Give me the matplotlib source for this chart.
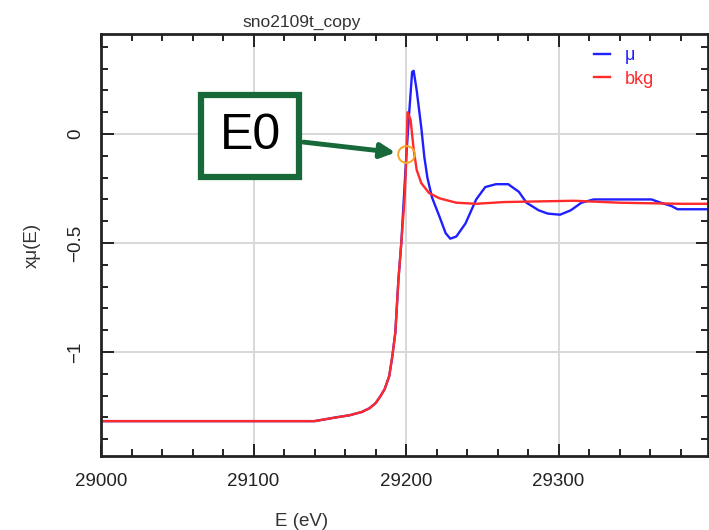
import matplotlib
matplotlib.use("Agg")
import matplotlib.pyplot as plt
from matplotlib.ticker import MultipleLocator
import numpy as np

plt.rcParams['font.family'] = ['Liberation Sans', 'DejaVu Sans']

# background (bkg) curve
bkg_energy = [29000, 29140, 29154, 29163, 29171, 29176, 29180, 29183, 29186,
              29189, 29191, 29193, 29194, 29195, 29197, 29199, 29200, 29201,
              29203, 29205, 29207, 29210, 29215, 29222, 29233, 29246, 29264,
              29310, 29340, 29380, 29398]
bkg_values = [-1.317, -1.317, -1.30, -1.29, -1.275, -1.258, -1.235, -1.205, -1.17,
              -1.11, -1.02, -0.91, -0.79, -0.67, -0.49, -0.30, -0.15, 0.10,
              0.065, -0.07, -0.165, -0.225, -0.27, -0.295, -0.315, -0.32, -0.312,
              -0.306, -0.315, -0.32, -0.32]

# mu(E) curve
mu_energy = [29000, 29140, 29154, 29163, 29171, 29176, 29180, 29183, 29186,
             29189, 29191, 29193, 29194, 29195, 29197, 29200, 29202, 29204,
             29205, 29207, 29210, 29212, 29214, 29217, 29222, 29226, 29229,
             29233, 29239, 29246, 29252, 29259, 29267, 29274, 29279, 29287,
             29293, 29301, 29308, 29315, 29323, 29361, 29367, 29374, 29378,
             29398]
mu_values = [-1.317, -1.317, -1.30, -1.29, -1.275, -1.258, -1.235, -1.205, -1.17,
             -1.11, -1.02, -0.91, -0.79, -0.67, -0.49, -0.12, 0.09, 0.285,
             0.29, 0.20, 0.03, -0.105, -0.20, -0.29, -0.38, -0.455, -0.48,
             -0.47, -0.41, -0.30, -0.243, -0.23, -0.23, -0.265, -0.315, -0.35,
             -0.365, -0.37, -0.35, -0.315, -0.30, -0.30, -0.315, -0.33, -0.345,
             -0.345]

e0_energy = 29200
e0_value = -0.09

fig = plt.figure(figsize=(7.09, 5.30), dpi=100)
ax = fig.add_axes([101 / 709, 1 - 456 / 530, 607 / 709, 422 / 530])

ax.plot(mu_energy, mu_values, color='#1f1fff', lw=1.7, label='μ')
ax.plot(bkg_energy, bkg_values, color='#ff2a2a', lw=1.7, label='bkg')
ax.plot([e0_energy], [e0_value], 'o', mfc='none', mec='#f5a623', mew=1.4, ms=12)

ax.set_xlim(29000, 29398)
ax.set_ylim(-1.477, 0.459)
ax.xaxis.set_major_locator(MultipleLocator(100))
ax.xaxis.set_minor_locator(MultipleLocator(20))
ax.yaxis.set_major_locator(MultipleLocator(0.5))
ax.yaxis.set_minor_locator(MultipleLocator(0.1))
ax.yaxis.set_major_formatter(plt.FuncFormatter(lambda v, p: ('%g' % v).replace('-', '\u2212')))
ax.tick_params(which='both', direction='in', top=True, right=True,
               width=1.4, colors='#222222', labelsize=13.5)
ax.tick_params(which='major', length=9, pad=12)
ax.tick_params(which='minor', length=5)
for lab in ax.get_yticklabels():
    lab.set_rotation(90)
    lab.set_va('center')
ax.grid(True, which='major', color='#d8d8d8', lw=1.4)
ax.set_axisbelow(True)
for s in ax.spines.values():
    s.set_linewidth(2)
    s.set_color('#222222')

ax.set_title('sno2109t_copy', x=0.33, fontsize=12.5, color='#333333', pad=5)
ax.set_xlabel('E (eV)', fontsize=13.5, color='#333333')
ax.xaxis.set_label_coords(0.33, -0.135)
ax.set_ylabel('xμ(E)', fontsize=13.5, color='#333333')
ax.yaxis.set_label_coords(-0.1, 0.5)

ax.legend(loc='upper left', bbox_to_anchor=(0.797, 0.99), frameon=False,
          handlelength=0.9, handletextpad=0.8, labelspacing=0.35,
          borderpad=0, fontsize=13, labelcolor='linecolor')

ax.annotate('E0', xy=(e0_energy - 7, e0_value + 0.005), xycoords='data',
            xytext=(250, 530 - 136), textcoords='figure pixels',
            fontsize=36, ha='center', va='center',
            bbox=dict(boxstyle='square,pad=0.36', fc='white', ec='#17693a', lw=4.5),
            arrowprops=dict(arrowstyle='-|>', color='#17693a', lw=3.5,
                            mutation_scale=22, shrinkB=0))

fig.savefig('out.png', dpi=100)
